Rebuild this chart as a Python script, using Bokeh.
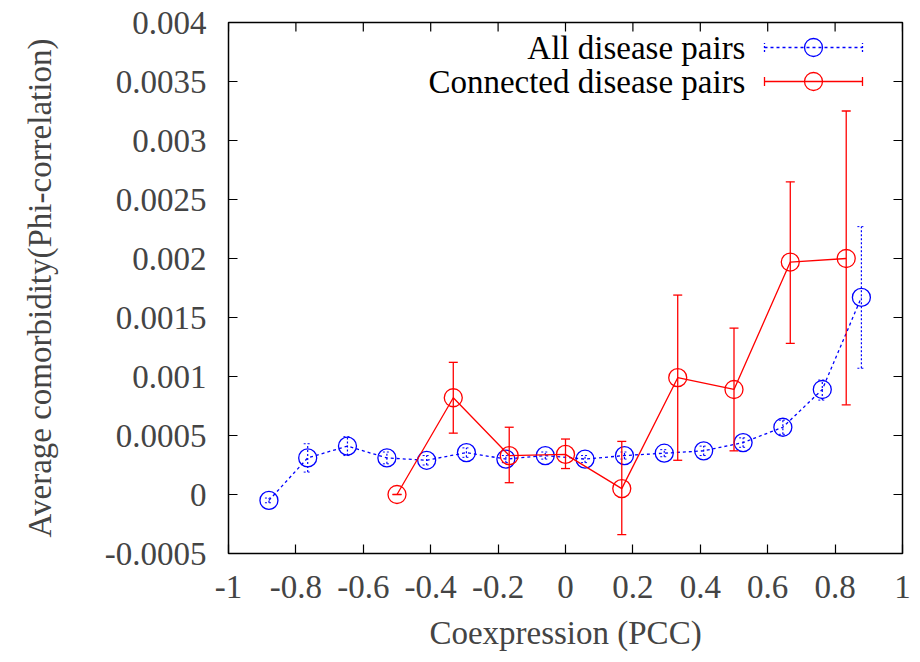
from bokeh.plotting import figure
from bokeh.models import Range1d, FixedTicker, Label
from bokeh.embed import file_html
from bokeh.resources import INLINE

# ---- data ----
all_x = [-0.88, -0.765, -0.647, -0.53, -0.412, -0.294, -0.177, -0.06,
         0.058, 0.175, 0.293, 0.41, 0.527, 0.645, 0.762, 0.878]
all_y = [-0.00005, 0.00031, 0.00041, 0.00031, 0.00029, 0.000355, 0.0003, 0.00033,
         0.0003, 0.00033, 0.00035, 0.00037, 0.00044, 0.00057, 0.00089, 0.00167]
all_lo = [-0.00007, 0.00019, 0.00033, 0.00026, 0.00025, 0.000315, 0.00027, 0.0003,
          0.00027, 0.0003, 0.00032, 0.00033, 0.0004, 0.00051, 0.0008, 0.00107]
all_hi = [-0.00003, 0.00043, 0.00049, 0.00036, 0.00033, 0.000395, 0.00033, 0.00036,
          0.00033, 0.00036, 0.00038, 0.00041, 0.00048, 0.00063, 0.00097, 0.00227]

con_x = [-0.5, -0.333, -0.167, 0, 0.167, 0.333, 0.5, 0.667, 0.833]
con_y = [0.0, 0.00082, 0.00033, 0.00034, 0.00005, 0.00099, 0.00089, 0.00197, 0.002]
con_lo = [0.0, 0.00052, 0.0001, 0.00022, -0.00034, 0.00029, 0.00037, 0.00128, 0.00076]
con_hi = [0.0, 0.00112, 0.00057, 0.00047, 0.00045, 0.00169, 0.00141, 0.00265, 0.00325]

x_ticks = [-1, -0.8, -0.6, -0.4, -0.2, 0, 0.2, 0.4, 0.6, 0.8, 1]
x_tick_labels = ["-1", "-0.8", "-0.6", "-0.4", "-0.2", "0", "0.2", "0.4", "0.6", "0.8", "1"]
y_ticks = [-0.0005, 0, 0.0005, 0.001, 0.0015, 0.002, 0.0025, 0.003, 0.0035, 0.004]
y_tick_labels = ["-0.0005", "0", "0.0005", "0.001", "0.0015", "0.002", "0.0025", "0.003", "0.0035", "0.004"]

series_names = ["All disease pairs", "Connected disease pairs"]
BLUE = "#0000ff"
RED = "#ff0000"
FONT = "Liberation Serif"
FS = "33px"
X_MIN, X_MAX = -1, 1
Y_MIN, Y_MAX = -0.0005, 0.004

p = figure(width=920, height=662, x_range=Range1d(X_MIN, X_MAX), y_range=Range1d(Y_MIN, Y_MAX),
           output_backend="svg", toolbar_location=None,
           min_border_left=228, min_border_right=18, min_border_top=22, min_border_bottom=109)
p.grid.visible = False
p.outline_line_color = "black"
p.outline_line_width = 1.5
p.background_fill_color = "white"
p.border_fill_color = "white"

def style_axis(ax, ticks, labels):
    ax.ticker = FixedTicker(ticks=ticks)
    ax.major_label_overrides = {t: l for t, l in zip(ticks, labels)}
    ax.minor_tick_line_color = None
    ax.major_tick_in = 9
    ax.major_tick_out = 0
    ax.major_tick_line_width = 1.2
    ax.axis_line_color = None
    ax.major_label_text_font = FONT
    ax.major_label_text_font_size = FS
    ax.axis_label_text_font = FONT
    ax.axis_label_text_font_size = FS
    ax.axis_label_text_font_style = "normal"

style_axis(p.xaxis[0], x_ticks, x_tick_labels)
style_axis(p.yaxis[0], y_ticks, y_tick_labels)
p.xaxis[0].axis_label = "Coexpression (PCC)"
p.yaxis[0].axis_label = "Average comorbidity(Phi-correlation)"
p.xaxis[0].major_label_standoff = 22
p.yaxis[0].major_label_standoff = 22
p.xaxis[0].axis_label_standoff = 14
p.yaxis[0].axis_label_standoff = 44

# mirrored inward ticks on top and right edges (clipped to the frame -> half visible)
p.scatter(x_ticks, [Y_MAX] * len(x_ticks), marker="dash", angle=1.5708, size=18,
          line_color="black", line_width=1.2)
p.scatter([X_MAX] * len(y_ticks), y_ticks, marker="dash", size=18,
          line_color="black", line_width=1.2)

# ---- All disease pairs (blue, dotted) ----
p.line(all_x, all_y, line_color=BLUE, line_width=1.3, line_dash="3 3")
p.segment(x0=all_x, y0=all_lo, x1=all_x, y1=all_hi, line_color=BLUE, line_width=1.2, line_dash="2 2")
p.scatter(all_x, all_lo, marker="dash", size=8, line_color=BLUE, line_width=1, line_dash="2 2")
p.scatter(all_x, all_hi, marker="dash", size=8, line_color=BLUE, line_width=1, line_dash="2 2")
p.scatter(all_x, all_y, marker="circle", size=18, fill_color=None, line_color=BLUE, line_width=1.3)

# ---- Connected disease pairs (red, solid) ----
p.line(con_x, con_y, line_color=RED, line_width=1.3)
p.segment(x0=con_x, y0=con_lo, x1=con_x, y1=con_hi, line_color=RED, line_width=1.3)
p.scatter(con_x, con_lo, marker="dash", size=9, line_color=RED, line_width=1.3)
p.scatter(con_x, con_hi, marker="dash", size=9, line_color=RED, line_width=1.3)
p.scatter(con_x, con_y, marker="circle", size=18, fill_color=None, line_color=RED, line_width=1.3)

# ---- key (gnuplot style: text left, sample right) ----
key_x0, key_x1, key_xc, key_text_x = 0.5905, 0.8813, 0.7359, 0.534
key_rows = [0.003788, 0.0035]
styles = [(BLUE, "3 3"), (RED, "solid")]
for name, ky, (col, dash) in zip(series_names, key_rows, styles):
    p.segment(x0=[key_x0], y0=[ky], x1=[key_x1], y1=[ky], line_color=col, line_width=1.3, line_dash=dash)
    p.scatter([key_x0, key_x1], [ky, ky], marker="dash", angle=1.5708, size=9,
              line_color=col, line_width=1.3, line_dash=("2 2" if dash != "solid" else "solid"))
    p.scatter([key_xc], [ky], marker="circle", size=18, fill_color=None, line_color=col, line_width=1.3)
    p.add_layout(Label(x=key_text_x, y=ky, text=name, text_align="right", text_baseline="middle",
                       text_font=FONT, text_font_size=FS, text_color="black"))

open("out.html", "w").write(file_html(p, INLINE))
